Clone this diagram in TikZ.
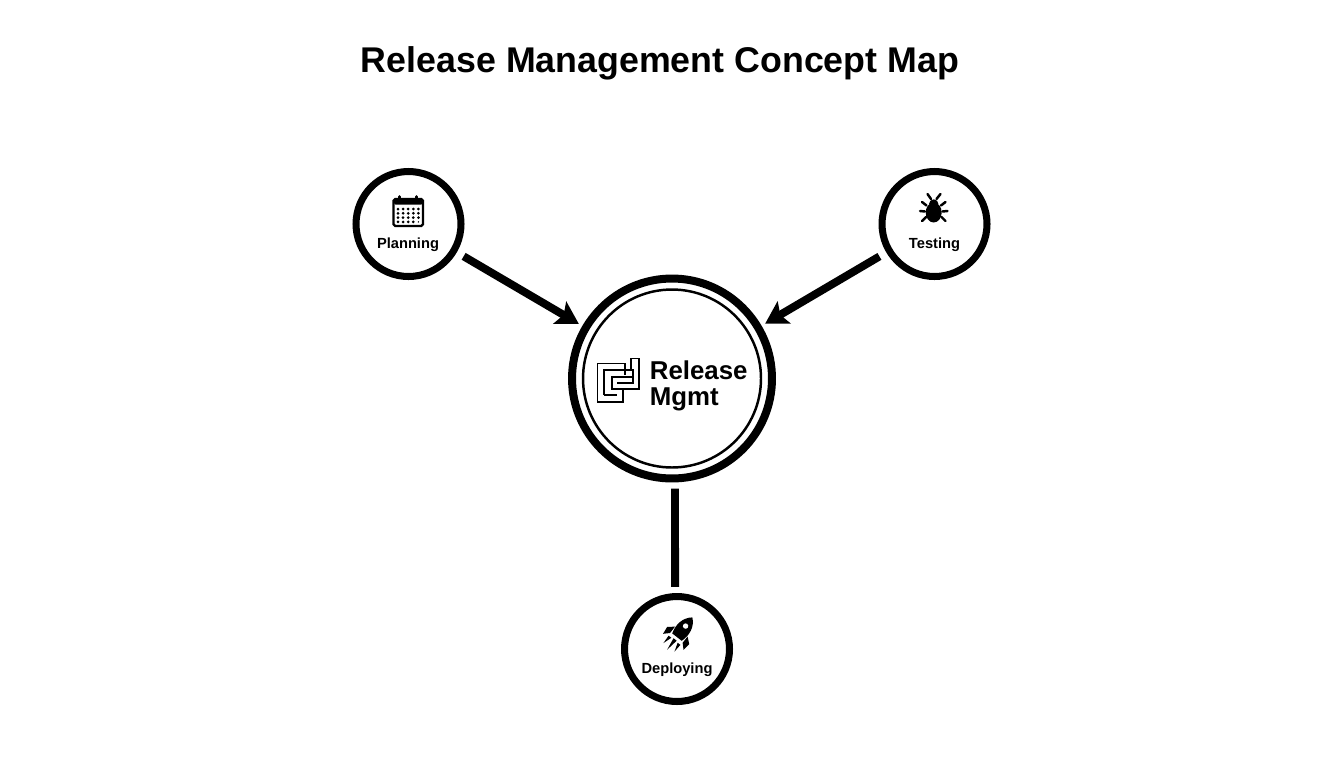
\documentclass[tikz,border=0pt]{standalone}
\usepackage{fontspec}
\setmainfont{Liberation Sans}
\usetikzlibrary{arrows.meta,calc}
\tikzset{
  concept/.style={circle, draw, inner sep=0pt, line width=4pt, minimum size=2.1cm},
  leaflabel/.style={anchor=base, inner sep=0pt, font=\fontsize{8.35}{10}\selectfont\bfseries},
  link/.style={line width=4.5pt},
  icon/.style={line width=1.4pt, line cap=round}
}

\begin{document}
\begin{tikzpicture}[ x=0.02cm, y=0.02cm
                       , >={Stealth[length=12.5pt,width=14.5pt,inset=2.5pt]}
                       ]

      \useasboundingbox (0,0) rectangle (1344,-768);

      \node (title) [anchor=base, inner sep=0pt, font=\fontsize{20.35}{24}\selectfont\bfseries] at (660,-72) {Release Management Concept Map};

      \node (mainmgmt) [circle, draw, inner sep=0pt, line width=4.55pt, minimum size=4cm] at (672,-378.5) {};
      \node (maininner) [circle, draw, inner sep=0pt, line width=1.4pt, minimum size=3.56cm] at (672,-378.5) {};
      \node (planning) [concept] at (408.5,-224) {};
      \node (testing) [concept] at (934.5,-224) {};
      \node (deploying) [concept] at (677,-649) {};

      \draw [->, link, shorten <=4.5pt, shorten >=2.3pt] (planning) -- (mainmgmt);
      \draw [->, link, shorten <=4.5pt, shorten >=2.3pt] (testing) -- (mainmgmt);
      \draw [-, link, shorten <=3.5pt, shorten >=3.5pt] ([xshift=1.7pt]mainmgmt.south) -- ([xshift=-1.1pt]deploying.north);

      \node (mainrelease) [anchor=base west, inner sep=0pt, font=\fontsize{14.7}{18}\selectfont\bfseries] at (649.5,-379) {Release};
      \node (mainshort) [anchor=base west, inner sep=0pt, font=\fontsize{14.7}{18}\selectfont\bfseries] at (649.5,-405.5) {Mgmt};
      \node (planninglabel) [leaflabel] at (408,-248) {Planning};
      \node (testinglabel) [leaflabel] at (934.5,-248) {Testing};
      \node (deployinglabel) [leaflabel] at (677,-673) {Deploying};

      \draw [line width=1pt] (623,-389) -- (623,-402) -- (597.5,-402) -- (597.5,-363.5) -- (625,-363.5) -- (625,-375);
      \draw [line width=1pt] (631,-370) -- (631,-358.5) -- (639,-358.5) -- (639,-389) -- (612,-389) -- (612,-377) -- (632,-377);
      \draw [line width=1pt] (604,-395) -- (604,-370) -- (633,-370) -- (633,-383) -- (617,-383);
      \draw [line width=1.5pt] (604,-395) -- (617,-395);

      \draw [line width=1.4pt, rounded corners=1pt] (393.5,-199) rectangle (423,-226);
      \fill [rounded corners=1pt] (393.5,-199) rectangle (423,-204.5);
      \draw [line width=1.5pt, line cap=round] (399.5,-196.5) -- (399.5,-201)
                (416.5,-196.5) -- (416.5,-201);
      \foreach \col in {0,1,2,3,4} {
        \foreach \row in {0,1,2} {
          \fill (398+5.1*\col,-209-4.3*\row) circle (1.5);
        }
      }
      \foreach \col in {0,1,2,3} {
        \fill (398+5.1*\col,-221.9) circle (1.5);
      }
      \fill (418.4,-221.9) circle (0.8);

      \fill (933.7,-212.5) ellipse (8 and 10);
      \fill (929,-204) arc (180:0:4.7) -- cycle;
      \draw [icon] (931,-199) -- (927.5,-194)
                (936.5,-199) -- (940.5,-194)
                (926.5,-205.5) -- (922,-202)
                (925,-211.5) -- (920,-211)
                (926,-217) -- (922,-221)
                (941,-205.5) -- (945.5,-202)
                (942.5,-211.5) -- (947.5,-211)
                (941.5,-217) -- (945.5,-221);

      \begin{scope}[shift={(682.5,-630)}, rotate=-38]
        \fill (0,16) .. controls (7.5,10) and (9,0) .. (6,-9) -- (-6,-9) .. controls (-9,0) and (-7.5,10) .. (0,16) -- cycle;
        \fill [white] (0,5) circle (2.7);
        \fill (-8,-2) -- (-14,-7) -- (-13,-15) -- (-8,-10) -- cycle;
        \fill (8,-2) -- (14,-7) -- (13,-15) -- (8,-10) -- cycle;
        \fill (-2,-12) -- (2,-12) -- (0,-25) -- cycle;
        \fill (-7.5,-13) -- (-4,-13) -- (-7,-22) -- cycle;
        \fill (4,-13) -- (7.5,-13) -- (7,-22) -- cycle;
      \end{scope}

  \end{tikzpicture}
\end{document}
